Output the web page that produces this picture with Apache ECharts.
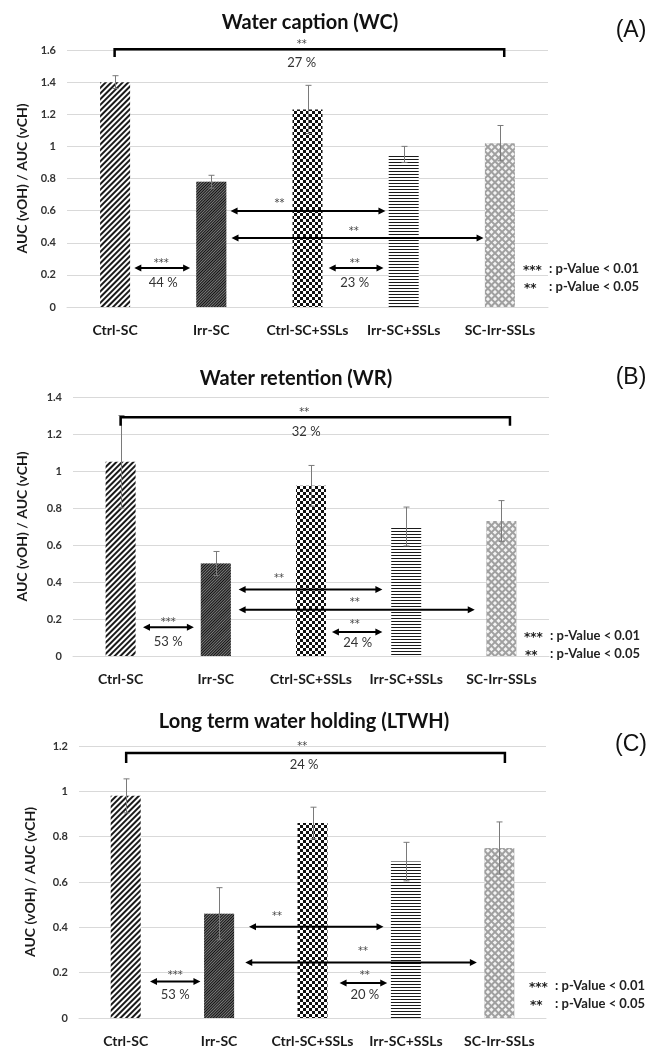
<!DOCTYPE html>
<html>
<head>
<meta charset="utf-8">
<title>AUC (vOH) / AUC (vCH)</title>
<script src="https://cdn.jsdelivr.net/npm/echarts@6/dist/echarts.min.js"></script>
<style>
    html, body { margin: 0; padding: 0; background: #fff; }
    #chart { width: 654px; height: 1048px; }
</style>
</head>
<body>
<div id="chart"></div>
<script>
    // categories (same for the three panels)
    var categories = ['Ctrl-SC', 'Irr-SC', 'Ctrl-SC+SSLs', 'Irr-SC+SSLs', 'SC-Irr-SSLs'];

    // (A) Water caption
    var wcMean = [1.40, 0.78, 1.23, 0.95, 1.02];
    var wcErr = [0.04, 0.04, 0.15, 0.05, 0.11];
    // (B) Water retention
    var wrMean = [1.05, 0.50, 0.92, 0.70, 0.73];
    var wrErr = [0.25, 0.065, 0.11, 0.105, 0.11];
    // (C) Long term water holding
    var ltMean = [0.98, 0.46, 0.86, 0.69, 0.75];
    var ltErr = [0.075, 0.115, 0.07, 0.085, 0.115];

    // significance arrows [from, to, y]  (x in category units, 0..5)
    var wcArrows = [[0.70, 1.28, 0.243], [1.70, 3.31, 0.598], [1.71, 4.33, 0.43], [2.72, 3.29, 0.243]];
    var wrArrows = [[0.735, 1.27, 0.155], [1.74, 3.25, 0.36], [1.74, 4.22, 0.25], [2.72, 3.25, 0.13]];
    var ltArrows = [[0.76, 1.30, 0.161], [1.82, 3.26, 0.403], [1.78, 4.26, 0.245], [2.79, 3.30, 0.154]];
    // bracket [from, to, y, yEnd]
    var wcBracket = [[0.495, 4.545, 1.605, 1.557]];
    var wrBracket = [[0.50, 4.59, 1.29, 1.245]];
    var ltBracket = [[0.505, 4.56, 1.169, 1.125]];
    // texts [x, y, text]
    var wcNotes = [[2.44, 1.65, '**'], [2.44, 1.52, '27 %'], [0.98, 0.286, '***'], [1.0, 0.15, '44 %'],
        [2.21, 0.66, '**'], [2.98, 0.48, '**'], [2.99, 0.286, '**'], [2.99, 0.15, '23 %']];
    var wrNotes = [[2.43, 1.327, '**'], [2.45, 1.214, '32 %'], [1.0, 0.19, '***'], [1.0, 0.077, '53 %'],
        [2.165, 0.43, '**'], [2.96, 0.30, '**'], [2.96, 0.18, '**'], [2.99, 0.069, '24 %']];
    var ltNotes = [[2.39, 1.207, '**'], [2.41, 1.116, '24 %'], [1.03, 0.195, '***'], [1.03, 0.103, '53 %'],
        [2.12, 0.455, '**'], [3.04, 0.304, '**'], [3.06, 0.195, '**'], [3.06, 0.103, '20 %']];

    var FONT = 'Lato, "Open Sans", sans-serif';
    var STAR_FONT = '"DejaVu Sans", sans-serif';

    var panels = [
        {title: 'Water caption (WC)', tag: '(A)', max: 1.6, mean: wcMean, err: wcErr, arrows: wcArrows, bracket: wcBracket, notes: wcNotes,
            grid: {left: 67, top: 50, width: 481, height: 257}, titleX: 310, titleY: 23, tagY: 31, legX: 523, legY: 269, nameGap: 38},
        {title: 'Water retention (WR)', tag: '(B)', max: 1.4, mean: wrMean, err: wrErr, arrows: wrArrows, bracket: wrBracket, notes: wrNotes,
            grid: {left: 73, top: 397, width: 476, height: 259}, titleX: 296, titleY: 379, tagY: 378, legX: 524, legY: 636, nameGap: 44},
        {title: 'Long term water holding (LTWH)', tag: '(C)', max: 1.2, mean: ltMean, err: ltErr, arrows: ltArrows, bracket: ltBracket, notes: ltNotes,
            grid: {left: 79, top: 746, width: 467, height: 272}, titleX: 304, titleY: 722, tagY: 745, legX: 529, legY: 986, nameGap: 42}
    ];

    // bar fill patterns
    var patterns = [
        {color: '#fff', decal: {symbol: 'rect', symbolSize: 1, color: '#1a1a1a', dashArrayX: [1, 0], dashArrayY: [2, 2], rotation: -Math.PI / 4}},
        {color: '#7a7a7a', decal: {symbol: 'rect', symbolSize: 1, color: '#111', dashArrayX: [1, 0], dashArrayY: [1, 1], rotation: -Math.PI / 4}},
        {color: '#fff', decal: {symbol: 'rect', symbolSize: 1, color: '#111', dashArrayX: [[3, 3], [0, 3, 3, 0]], dashArrayY: [3, 0], rotation: 0}},
        {color: '#fff', decal: {symbol: 'rect', symbolSize: 1, color: '#1a1a1a', dashArrayX: [1, 0], dashArrayY: [1, 1.6], rotation: 0}},
        {color: '#a0a0a0', decal: {symbol: 'rect', symbolSize: 1, color: '#f4f4f4', dashArrayX: [2.2, 1.3], dashArrayY: [2.2, 1.3], rotation: Math.PI / 4}}
    ];

    function renderError(params, api) {
        var x = api.value(0), m = api.value(1), e = api.value(2);
        var top = api.coord([x, m + e]);
        var bot = api.coord([x, m - e]);
        var cx = Math.round(top[0]) + 0.5;
        var st = {stroke: '#7a7a7a', lineWidth: 1};
        return {
            type: 'group', children: [
                {type: 'line', shape: {x1: cx, y1: top[1], x2: cx, y2: bot[1]}, style: st},
                {type: 'line', shape: {x1: cx - 3, y1: top[1], x2: cx + 3, y2: top[1]}, style: st},
                {type: 'line', shape: {x1: cx - 3, y1: bot[1], x2: cx + 3, y2: bot[1]}, style: st}
            ]
        };
    }

    function renderArrow(params, api) {
        var a = api.coord([api.value(0), api.value(2)]);
        var b = api.coord([api.value(1), api.value(2)]);
        var y = a[1], h = 7, w = 3.5;
        return {
            type: 'group', children: [
                {type: 'line', shape: {x1: a[0] + h - 1, y1: y, x2: b[0] - h + 1, y2: y}, style: {stroke: '#000', lineWidth: 2}},
                {type: 'polygon', shape: {points: [[a[0], y], [a[0] + h, y - w], [a[0] + h, y + w]]}, style: {fill: '#000'}},
                {type: 'polygon', shape: {points: [[b[0], y], [b[0] - h, y - w], [b[0] - h, y + w]]}, style: {fill: '#000'}}
            ]
        };
    }

    function renderBracket(params, api) {
        var a = api.coord([api.value(0), api.value(2)]);
        var b = api.coord([api.value(1), api.value(2)]);
        var e = api.coord([api.value(0), api.value(3)]);
        return {
            type: 'polyline',
            shape: {points: [[a[0], e[1]], [a[0], a[1]], [b[0], b[1]], [b[0], e[1]]]},
            style: {stroke: '#000', lineWidth: 2.5, fill: null}
        };
    }

    var grids = [], xAxes = [], yAxes = [], series = [], graphics = [];

    panels.forEach(function (p, i) {
        grids.push(p.grid);
        xAxes.push({
            type: 'category', gridIndex: i, data: categories,
            axisTick: {show: false},
            axisLine: {lineStyle: {color: '#d9d9d9'}},
            axisLabel: {interval: 0, margin: 16, fontSize: 14, fontWeight: 'bold', color: '#1a1a1a', fontFamily: FONT}
        });
        xAxes.push({type: 'value', gridIndex: i, min: 0, max: 5, show: false});
        yAxes.push({
            type: 'value', gridIndex: i, min: 0, max: p.max, interval: 0.2,
            axisLine: {show: false}, axisTick: {show: false},
            splitLine: {lineStyle: {color: '#d9d9d9'}},
            axisLabel: {margin: 11, fontSize: 11, fontWeight: 'bold', color: '#333', fontFamily: FONT},
            name: 'AUC (vOH) / AUC (vCH)', nameLocation: 'middle', nameGap: p.nameGap, nameRotate: 90,
            nameTextStyle: {fontSize: 14, fontWeight: 'bold', color: '#1a1a1a', fontFamily: FONT}
        });

        series.push({
            type: 'bar', xAxisIndex: 2 * i, yAxisIndex: i, barWidth: 30,
            data: p.mean.map(function (v, k) {
                return {value: v, itemStyle: patterns[k]};
            })
        });
        series.push({
            type: 'custom', xAxisIndex: 2 * i, yAxisIndex: i, z: 5,
            renderItem: renderError,
            data: p.mean.map(function (v, k) { return [k, v, p.err[k]]; })
        });
        series.push({
            type: 'custom', xAxisIndex: 2 * i + 1, yAxisIndex: i, z: 6, clip: false,
            renderItem: renderArrow, data: p.arrows
        });
        series.push({
            type: 'custom', xAxisIndex: 2 * i + 1, yAxisIndex: i, z: 6, clip: false,
            renderItem: renderBracket, data: p.bracket
        });
        series.push({
            type: 'custom', xAxisIndex: 2 * i + 1, yAxisIndex: i, z: 7, clip: false,
            renderItem: function (params, api) {
                var n = p.notes[params.dataIndex];
                var pt = api.coord([n[0], n[1]]);
                var isPct = n[2].indexOf('%') >= 0;
                return {
                    type: 'text', x: pt[0], y: pt[1] + (isPct ? 0 : 2),
                    style: {
                        text: n[2], fill: isPct ? '#333' : '#444',
                        font: isPct ? '13px ' + FONT : '10px ' + STAR_FONT,
                        textAlign: 'center', textVerticalAlign: 'middle'
                    }
                };
            },
            data: p.notes.map(function (n) { return [n[0], n[1]]; })
        });

        var legFont = 'bold 13px ' + FONT, starFont = 'bold 12px ' + STAR_FONT;
        graphics.push({type: 'text', x: p.titleX, y: p.titleY,
            style: {text: p.title, font: 'bold 20px ' + FONT, fill: '#111', textAlign: 'center', textVerticalAlign: 'middle'}});
        graphics.push({type: 'text', x: 631, y: p.tagY,
            style: {text: p.tag, font: '23px "Liberation Sans", Arial, sans-serif', fill: '#111', textAlign: 'center', textVerticalAlign: 'middle'}});
        graphics.push({type: 'text', x: p.legX, y: p.legY + 2,
            style: {text: '***', font: starFont, fill: '#222', textVerticalAlign: 'middle'}});
        graphics.push({type: 'text', x: p.legX + 26, y: p.legY,
            style: {text: ': p-Value < 0.01', font: legFont, fill: '#222', textVerticalAlign: 'middle'}});
        graphics.push({type: 'text', x: p.legX + 1, y: p.legY + 20,
            style: {text: '**', font: starFont, fill: '#222', textVerticalAlign: 'middle'}});
        graphics.push({type: 'text', x: p.legX + 26, y: p.legY + 18,
            style: {text: ': p-Value < 0.05', font: legFont, fill: '#222', textVerticalAlign: 'middle'}});
    });

    var chart = echarts.init(document.getElementById('chart'));
    chart.setOption({
        animation: false,
        backgroundColor: '#fff',
        grid: grids,
        xAxis: xAxes,
        yAxis: yAxes,
        series: series,
        graphic: graphics
    });
</script>
</body>
</html>
